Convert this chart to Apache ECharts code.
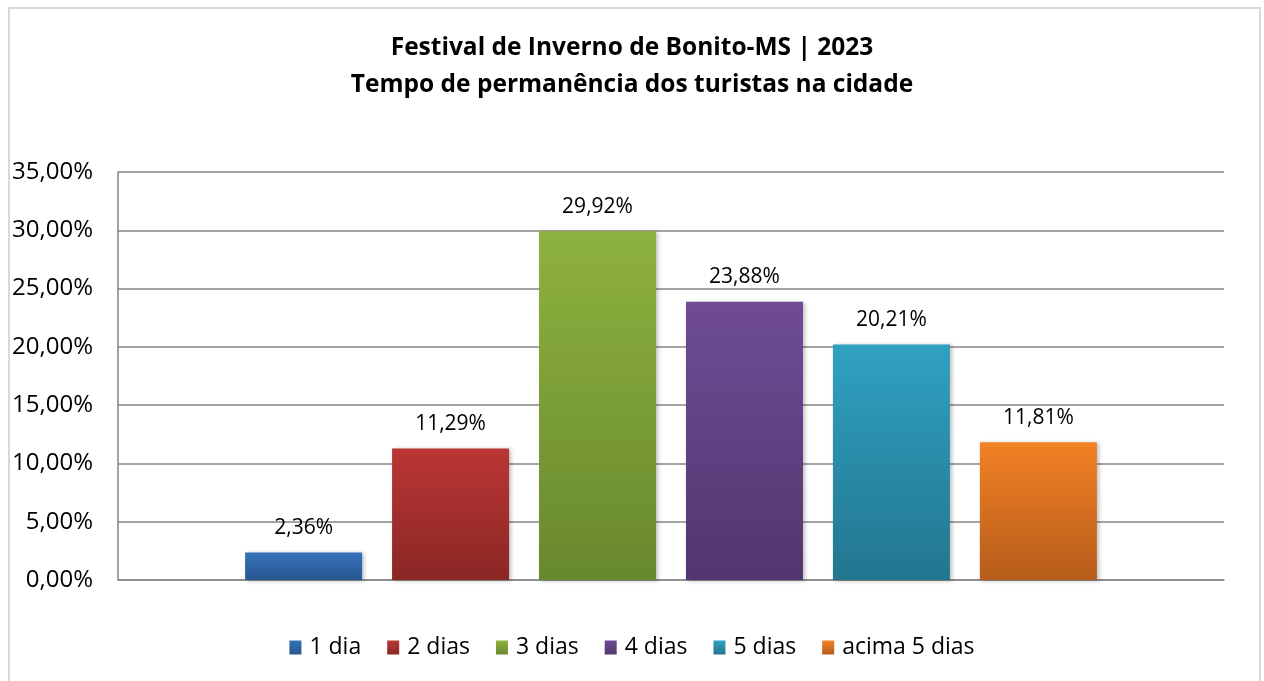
<!DOCTYPE html>
<html>
<head>
<meta charset="utf-8">
<script src="https://cdn.jsdelivr.net/npm/echarts@6/dist/echarts.min.js"></script>
<style>
  html, body { margin: 0; padding: 0; background: #fff; }
  #frame { position: absolute; left: 8px; top: 7px; width: 1253px; height: 700px; border: 2px solid #d9d9d9; box-sizing: border-box; }
  #chart { position: absolute; left: 0; top: 0; width: 1264px; height: 681px; }
</style>
</head>
<body>
<div id="frame"></div>
<div id="chart"></div>
<script>
const titleLines = ['Festival de Inverno de Bonito-MS | 2023', 'Tempo de permanência dos turistas na cidade'];
const seriesNames = ['1 dia', '2 dias', '3 dias', '4 dias', '5 dias', 'acima 5 dias'];
const values = [2.36, 11.29, 29.92, 23.88, 20.21, 11.81];
const topColors = ['#3573ba', '#ba3634', '#8eb23f', '#6f4c95', '#30a1c2', '#f38125'];
const bottomColors = ['#28568e', '#8a2725', '#68882d', '#51366f', '#22768f', '#b65c1b'];

const FONT = 'Open Sans';
const fmt = v => v.toFixed(2).replace('.', ',') + '%';

const chart = echarts.init(document.getElementById('chart'));

const series = seriesNames.map((name, i) => ({
  name: name,
  type: 'bar',
  data: [values[i]],
  barWidth: 117,
  barGap: '25.6%',
  itemStyle: {
    color: new echarts.graphic.LinearGradient(0, 0, 0, 1, [
      { offset: 0, color: topColors[i] },
      { offset: 1, color: bottomColors[i] }
    ]),
    shadowColor: 'rgba(0,0,0,0.25)',
    shadowBlur: 4,
    shadowOffsetX: 2,
    shadowOffsetY: 1
  },
  label: {
    show: true,
    position: 'top',
    distance: 14,
    formatter: p => fmt(p.value),
    fontFamily: FONT,
    fontSize: 21,
    color: '#000'
  }
}));

chart.setOption({
  animation: false,
  title: {
    text: titleLines.join('\n'),
    left: 'center',
    top: 25,
    textStyle: { fontFamily: FONT, fontWeight: 'bold', fontSize: 24.5, lineHeight: 37, color: '#000' }
  },
  legend: {
    data: seriesNames.map(n => ({ name: n, icon: 'rect' })),
    bottom: 17,
    left: 'center',
    itemWidth: 12,
    itemHeight: 14,
    itemGap: 26,
    textStyle: { fontFamily: FONT, fontSize: 23, color: '#000', padding: [0, 0, 0, 3] }
  },
  grid: { left: 118, right: 40, top: 172, bottom: 101 },
  xAxis: {
    type: 'category',
    data: [''],
    axisLine: { show: true, lineStyle: { color: '#868686', width: 1.5 } },
    axisTick: { show: false },
    axisLabel: { show: false }
  },
  yAxis: {
    type: 'value',
    min: 0,
    max: 35,
    interval: 5,
    axisLine: { show: true, lineStyle: { color: '#868686', width: 1.5 } },
    axisTick: { show: false },
    axisLabel: { formatter: fmt, fontFamily: FONT, fontSize: 24, color: '#000', margin: 25 },
    splitLine: { lineStyle: { color: '#868686', width: 1.5 } }
  },
  series: series
});
</script>
</body>
</html>
